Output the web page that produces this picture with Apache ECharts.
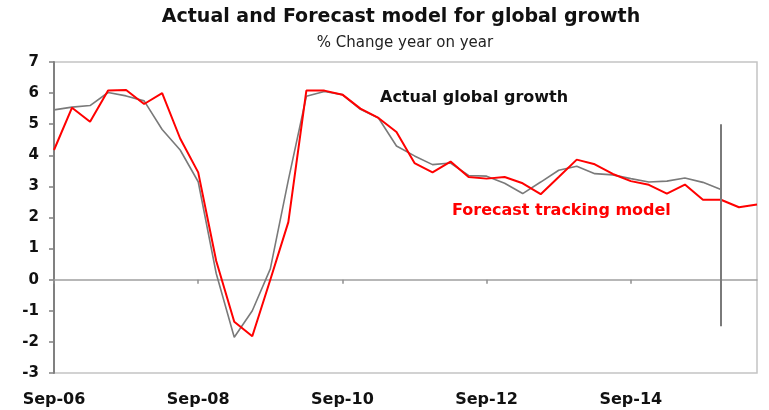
<!DOCTYPE html>
<html>
<head>
<meta charset="utf-8">
<title>Actual and Forecast model for global growth</title>
<script src="https://cdn.jsdelivr.net/npm/echarts@6/dist/echarts.min.js"></script>
<style>
  html, body { margin: 0; padding: 0; background: #fff; }
  #chart { width: 769px; height: 410px; }
</style>
</head>
<body>
<div id="chart"></div>
<script>
// quarterly, Sep-06 .. Jun-16
const categories = [
  'Sep-06', 'Dec-06', 'Mar-07', 'Jun-07', 'Sep-07', 'Dec-07', 'Mar-08', 'Jun-08',
  'Sep-08', 'Dec-08', 'Mar-09', 'Jun-09', 'Sep-09', 'Dec-09', 'Mar-10', 'Jun-10',
  'Sep-10', 'Dec-10', 'Mar-11', 'Jun-11', 'Sep-11', 'Dec-11', 'Mar-12', 'Jun-12',
  'Sep-12', 'Dec-12', 'Mar-13', 'Jun-13', 'Sep-13', 'Dec-13', 'Mar-14', 'Jun-14',
  'Sep-14', 'Dec-14', 'Mar-15', 'Jun-15', 'Sep-15', 'Dec-15', 'Mar-16', 'Jun-16'
]

const actualGrowth = [
  5.46, 5.55, 5.6, 6.02, 5.91, 5.75, 4.83, 4.17,
  3.15, 0.2, -1.85, -1.0, 0.35, 3.2, 5.9, 6.05,
  5.95, 5.48, 5.2, 4.3, 3.98, 3.7, 3.75, 3.35,
  3.33, 3.1, 2.77, 3.14, 3.52, 3.65, 3.41, 3.37,
  3.25, 3.14, 3.17, 3.27, 3.13, 2.9, null, null
]

const forecastModel = [
  4.17, 5.53, 5.08, 6.08, 6.1, 5.65, 6.0, 4.54,
  3.45, 0.6, -1.35, -1.82, 0.0, 1.85, 6.08, 6.08,
  5.95, 5.5, 5.2, 4.75, 3.75, 3.45, 3.8, 3.3,
  3.25, 3.3, 3.1, 2.75, 3.3, 3.86, 3.71, 3.4,
  3.17, 3.05, 2.77, 3.06, 2.57, 2.57, 2.33, 2.42
]

const yTicks = { min: -3, max: 7, step: 1 }
const latestQuarter = 'Dec-15'
const markerRange = [5, -1.5]

const fontFamily = 'DejaVu Sans'

const chart = echarts.init(document.getElementById('chart'))

const option = {
  animation: false,
  backgroundColor: '#fff',
  textStyle: { fontFamily: fontFamily },
  grid: {
    left: 54,
    right: 12,
    top: 62,
    bottom: 37,
    show: true,
    borderColor: '#c4c4c4',
    borderWidth: 1.5,
    backgroundColor: 'transparent'
  },
  graphic: [
    {
      type: 'text',
      x: 401,
      y: 17,
      style: {
        text: 'Actual and Forecast model for global growth',
        fill: '#111',
        font: 'bold 19px "DejaVu Sans"',
        textAlign: 'center',
        textVerticalAlign: 'middle'
      }
    },
    {
      type: 'text',
      x: 405,
      y: 43,
      style: {
        text: '% Change year on year',
        fill: '#222',
        font: '15px "DejaVu Sans"',
        textAlign: 'center',
        textVerticalAlign: 'middle'
      }
    },
    {
      type: 'text',
      x: 380,
      y: 98,
      style: {
        text: 'Actual global growth',
        fill: '#111',
        font: 'bold 16px "DejaVu Sans"',
        textAlign: 'left',
        textVerticalAlign: 'middle'
      }
    },
    {
      type: 'text',
      x: 452,
      y: 211,
      style: {
        text: 'Forecast tracking model',
        fill: '#ff0000',
        font: 'bold 16px "DejaVu Sans"',
        textAlign: 'left',
        textVerticalAlign: 'middle'
      }
    }
  ],
  xAxis: [
    {
      type: 'category',
      data: categories,
      boundaryGap: false,
      axisLine: { show: false, onZero: false },
      axisTick: { show: false },
      axisLabel: {
        interval: 7,
        margin: 19,
        color: '#111',
        fontWeight: 'bold',
        fontSize: 16,
        fontFamily: fontFamily
      },
      splitLine: { show: false }
    },
    {
      // zero line with the small ticks under it
      type: 'category',
      data: categories,
      position: 'bottom',
      boundaryGap: false,
      axisLine: { show: true, onZero: true, lineStyle: { color: '#a0a0a0', width: 1.5 } },
      axisTick: { show: true, interval: 7, length: 4, lineStyle: { color: '#909090', width: 1.5 } },
      axisLabel: { show: false },
      splitLine: { show: false }
    }
  ],
  yAxis: {
    type: 'value',
    min: yTicks.min,
    max: yTicks.max,
    interval: yTicks.step,
    axisLine: { show: true, lineStyle: { color: '#808080', width: 2 } },
    axisTick: { show: true, length: 5, lineStyle: { color: '#808080', width: 1.5 } },
    axisLabel: {
      margin: 15,
      color: '#111',
      fontWeight: 'bold',
      fontSize: 15,
      fontFamily: fontFamily
    },
    splitLine: { show: false }
  },
  series: [
    {
      name: 'Actual global growth',
      type: 'line',
      data: actualGrowth,
      showSymbol: false,
      symbol: 'none',
      lineStyle: { color: '#7a7a7a', width: 1.6 },
      z: 2
    },
    {
      name: 'Forecast tracking model',
      type: 'line',
      data: forecastModel,
      showSymbol: false,
      symbol: 'none',
      lineStyle: { color: '#ff0000', width: 2 },
      z: 3,
      markLine: {
        silent: true,
        symbol: 'none',
        label: { show: false },
        lineStyle: { color: '#7a7a7a', width: 2, type: 'solid' },
        data: [
          [
            { coord: [latestQuarter, markerRange[0]] },
            { coord: [latestQuarter, markerRange[1]] }
          ]
        ]
      }
    }
  ]
}

chart.setOption(option)
</script>
</body>
</html>
